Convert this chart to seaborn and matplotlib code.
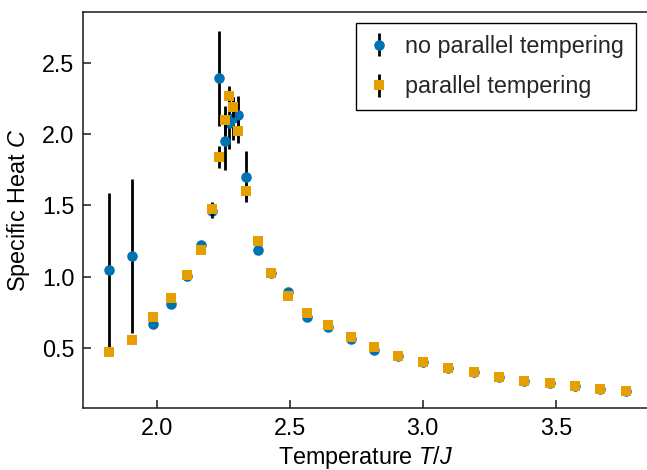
import numpy as np
import pandas as pd
import matplotlib
matplotlib.use('Agg')
import matplotlib.pyplot as plt
import seaborn as sns

# ── DATA ─────────────────────────────────────────────────────────────────
temperature = [1.82, 1.905, 1.984, 2.055, 2.115, 2.168, 2.206, 2.235, 2.255,
               2.272, 2.287, 2.307, 2.337, 2.38, 2.43, 2.495, 2.566, 2.644,
               2.73, 2.817, 2.908, 3.0, 3.096, 3.192, 3.287, 3.381, 3.477,
               3.572, 3.666, 3.762]

heat_no_pt = [1.05, 1.147, 0.67, 0.81, 1.005, 1.224, 1.46, 2.392, 1.95,
              2.075, 2.11, 2.136, 1.703, 1.19, 1.03, 0.895, 0.72, 0.65,
              0.563, 0.488, 0.446, 0.40, 0.357, 0.33, 0.30, 0.271, 0.252,
              0.231, 0.215, 0.197]
err_no_pt = [0.54, 0.54, 0.01, 0.01, 0.01, 0.02, 0.05, 0.334, 0.2,
             0.18, 0.15, 0.13, 0.18, 0.02, 0.03, 0.01, 0.01, 0.01,
             0.01, 0.005, 0.005, 0.005, 0.005, 0.005, 0.005, 0.005, 0.005,
             0.005, 0.005, 0.005]

heat_pt = [0.47, 0.56, 0.715, 0.848, 1.016, 1.19, 1.477, 1.84, 2.096,
           2.266, 2.19, 2.02, 1.60, 1.25, 1.03, 0.867, 0.743, 0.664,
           0.575, 0.505, 0.446, 0.40, 0.357, 0.33, 0.30, 0.271, 0.252,
           0.231, 0.215, 0.197]
err_pt = [0.01, 0.01, 0.01, 0.01, 0.01, 0.02, 0.05, 0.08, 0.1,
          0.07, 0.07, 0.08, 0.05, 0.02, 0.02, 0.01, 0.01, 0.01,
          0.01, 0.005, 0.005, 0.005, 0.005, 0.005, 0.005, 0.005, 0.005,
          0.005, 0.005, 0.005]

df = pd.DataFrame({'T': temperature,
                   'C_no_pt': heat_no_pt, 'dC_no_pt': err_no_pt,
                   'C_pt': heat_pt, 'dC_pt': err_pt})

# ── STYLE ─────────────────────────────────────────────────────────────────
sns.set_theme(style='ticks')
plt.rcParams['font.family'] = ['Liberation Sans', 'DejaVu Sans']
plt.rcParams['mathtext.fontset'] = 'custom'
plt.rcParams['mathtext.rm'] = 'Liberation Sans'
plt.rcParams['mathtext.it'] = 'Liberation Sans:italic'
plt.rcParams['axes.linewidth'] = 1.1
plt.rcParams['axes.edgecolor'] = '#1a1a1a'

fs = 16.8

fig = plt.figure(figsize=(6.47, 4.70), dpi=100)
ax = fig.add_axes([0.128, 0.131, 0.875, 0.843])

blue = '#0072B2'
orange = '#E69F00'

ax.errorbar(df['T'], df['C_no_pt'], yerr=df['dC_no_pt'], fmt='o',
            color=blue, ms=7.6, mew=0, ecolor='black', elinewidth=2,
            capsize=0, label='no parallel tempering', zorder=2)
ax.errorbar(df['T'], df['C_pt'], yerr=df['dC_pt'], fmt='s',
            color=orange, ms=7.0, mew=0, ecolor='black', elinewidth=2,
            capsize=0, label='parallel tempering', zorder=3)

ax.set_xlim(1.722, 3.85)
ax.set_ylim(0.077, 2.855)
ax.set_xticks([2.0, 2.5, 3.0, 3.5])
ax.set_yticks([0.5, 1.0, 1.5, 2.0, 2.5])
ax.tick_params(direction='in', length=6, width=1.1, labelsize=fs,
               colors='#1a1a1a', labelcolor='black', pad=6)
ax.set_xlabel('Temperature $T/J$', fontsize=fs, labelpad=3, color='black')
ax.set_ylabel('Specific Heat $C$', fontsize=fs, labelpad=7, color='black')

leg = ax.legend(loc='upper right', bbox_to_anchor=(0.977, 0.972),
                fontsize=fs, frameon=True, fancybox=False,
                edgecolor='black', framealpha=1, handlelength=0.9,
                handletextpad=0.7, borderpad=0.5, labelspacing=0.75,
                borderaxespad=0)
leg.get_frame().set_linewidth(1.0)

fig.savefig('out.png', dpi=100)
